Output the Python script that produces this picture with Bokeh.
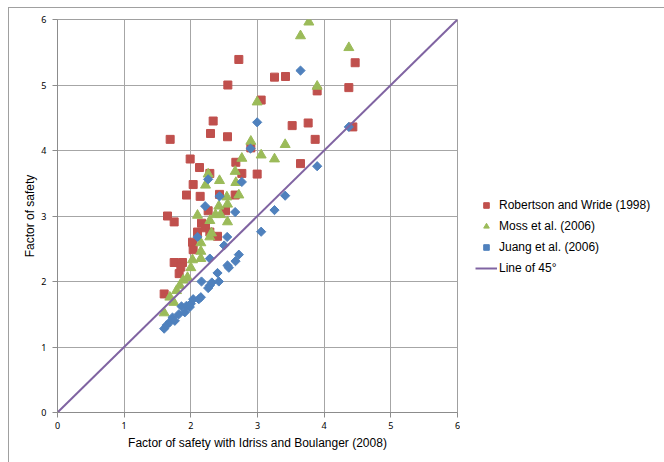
import numpy as np
from bokeh.plotting import figure
from bokeh.layouts import row
from bokeh.models import (Legend, LegendItem, FixedTicker, Range1d)
from bokeh.embed import file_html
from bokeh.resources import INLINE

# ---------------- data ----------------
rw_x = [1.69, 1.65, 1.75, 1.60, 1.75, 1.875, 1.85, 1.825, 1.935, 1.99, 2.035, 2.025, 2.035,
        2.10, 2.13, 2.14, 2.16, 2.22, 2.26, 2.285, 2.285, 2.295, 2.335, 2.40, 2.43, 2.52,
        2.55, 2.555, 2.665, 2.675, 2.72, 2.765, 2.90, 2.995, 3.055, 3.255, 3.42, 3.52,
        3.645, 3.76, 3.865, 3.895, 4.37, 4.43, 4.465]
rw_y = [4.17, 3.00, 2.91, 1.81, 2.29, 2.29, 2.22, 2.12, 3.32, 3.87, 3.48, 2.60, 2.485,
        2.755, 3.74, 3.30, 2.89, 2.82, 3.08, 2.755, 3.65, 4.26, 4.45, 2.69, 3.33, 3.08,
        4.21, 5.00, 3.32, 3.82, 5.39, 3.65, 4.04, 3.64, 4.77, 5.12, 5.13, 4.38,
        3.80, 4.42, 4.17, 4.91, 4.96, 4.36, 5.34]

moss_x = [1.60, 1.745, 1.685, 1.785, 1.835, 1.885, 1.95, 2.00, 2.025, 2.15, 2.15, 2.15,
          2.285, 2.31, 2.285, 2.10, 2.37, 2.445, 2.55, 2.42, 2.55, 2.54, 2.72, 2.22,
          2.43, 2.26, 2.675, 2.665, 2.765, 2.90, 2.995, 3.055, 3.255, 3.415, 3.645,
          3.77, 3.895, 4.37]
moss_y = [1.52, 1.68, 1.76, 1.86, 1.94, 2.02, 2.06, 2.21, 2.33, 2.35, 2.46, 2.59,
          2.68, 2.74, 2.93, 3.01, 3.02, 3.02, 2.91, 3.15, 3.18, 3.29, 3.32, 3.47,
          3.54, 3.64, 3.51, 3.68, 3.88, 4.14, 4.74, 3.93, 3.87, 4.09, 5.75,
          5.96, 4.98, 5.57]

juang_x = [1.60, 1.635, 1.685, 1.725, 1.76, 1.82, 1.86, 1.91, 1.935, 1.985, 2.00, 2.035,
           2.12, 2.15, 2.16, 2.26, 2.285, 2.315, 2.42, 2.40, 2.285, 2.55, 2.57, 2.67,
           2.72, 2.50, 2.10, 2.545, 3.055, 2.665, 3.255, 2.215, 2.43, 3.415, 2.765,
           2.26, 3.895, 2.895, 4.37, 2.995, 3.645]
juang_y = [1.28, 1.33, 1.38, 1.45, 1.40, 1.50, 1.62, 1.53, 1.63, 1.61, 1.66, 1.73,
           1.73, 1.76, 2.00, 1.90, 1.94, 1.985, 2.00, 2.13, 2.35, 2.245, 2.21, 2.31,
           2.41, 2.55, 2.68, 2.68, 2.76, 3.06, 3.09, 3.15, 3.30, 3.31, 3.52,
           3.56, 3.76, 4.03, 4.36, 4.43, 5.22]

line_x = [0, 6]
line_y = [0, 6]

ticks = [0, 1, 2, 3, 4, 5, 6]
series_names = ["Robertson and Wride (1998)", "Moss et al. (2006)",
                "Juang et al. (2006)", "Line of 45°"]

red = "#C0504D"
green = "#9BBB59"
blue = "#4F81BD"
purple = "#8064A2"

# ---------------- main figure ----------------
p = figure(width=451, height=454, output_backend="svg", toolbar_location=None,
           x_range=Range1d(0, 6), y_range=Range1d(0, 6),
           min_border_left=48, min_border_right=3, min_border_top=11,
           min_border_bottom=50)
p.background_fill_color = "white"
p.border_fill_color = "white"
p.outline_line_color = "#a0a0a0"
p.outline_line_width = 1

grid_col = "#a6a6a6"
for ax in (p.xaxis[0], p.yaxis[0]):
    ax.ticker = FixedTicker(ticks=ticks)
    ax.axis_line_color = "#8c8c8c"
    ax.major_tick_line_color = "#8c8c8c"
    ax.minor_tick_line_color = None
    ax.major_tick_in = 0
    ax.major_tick_out = 5
    ax.major_label_text_font = "Noto Sans"
    ax.major_label_text_font_size = "9px"
    ax.major_label_text_color = "#000000"
    ax.axis_label_text_font = "Liberation Sans"
    ax.axis_label_text_font_size = "12px"
    ax.axis_label_text_font_style = "normal"
    ax.axis_label_text_color = "#000000"

p.xaxis.axis_label = "Factor of safety with Idriss and Boulanger (2008)"
p.yaxis.axis_label = "Factor of safety"
p.xaxis.major_label_standoff = 4
p.xaxis.axis_label_standoff = 4
p.yaxis.major_label_standoff = 6
p.yaxis.axis_label_standoff = 1

p.xgrid.ticker = FixedTicker(ticks=ticks)
p.ygrid.ticker = FixedTicker(ticks=ticks)
p.xgrid.grid_line_color = grid_col
p.ygrid.grid_line_color = grid_col
p.xgrid.grid_line_width = 1
p.ygrid.grid_line_width = 1

p.scatter(rw_x, rw_y, marker="square", size=8, fill_color=red, line_color=red)
p.scatter(moss_x, moss_y, marker="triangle", size=10, fill_color=green, line_color=green)
p.scatter(juang_x, juang_y, marker="square", angle=np.pi / 4, size=6.5,
          fill_color=blue, line_color=blue)
p.line(line_x, line_y, line_color=purple, line_width=2)

# ---------------- legend panel ----------------
# (series repeated here only to feed the legend; they fall outside this panel's range)
q = figure(width=204, height=454, output_backend="svg", toolbar_location=None,
           x_range=Range1d(-10, -9), y_range=Range1d(-10, -9),
           min_border_left=0, min_border_right=0, min_border_top=0,
           min_border_bottom=0)
q.axis.visible = False
q.grid.visible = False
q.outline_line_color = None
q.background_fill_color = "white"
q.border_fill_color = "white"

l1 = q.scatter(rw_x, rw_y, marker="square", size=7, fill_color=red, line_color=red)
l2 = q.scatter(moss_x, moss_y, marker="triangle", size=9, fill_color=green, line_color=green)
l3 = q.scatter(juang_x, juang_y, marker="square", angle=np.pi / 4, size=5.5,
               fill_color=blue, line_color=blue)
l4 = q.line(line_x, line_y, line_color=purple, line_width=2)

legend = Legend(items=[LegendItem(label=series_names[0], renderers=[l1]),
                       LegendItem(label=series_names[1], renderers=[l2]),
                       LegendItem(label=series_names[2], renderers=[l3]),
                       LegendItem(label=series_names[3], renderers=[l4])],
                location=(15, 134))
legend.border_line_color = None
legend.background_fill_alpha = 0
legend.label_text_font = "Liberation Sans"
legend.label_text_font_size = "12px"
legend.label_text_color = "#000000"
legend.glyph_width = 22
legend.glyph_height = 14
legend.label_height = 20
legend.spacing = 1
legend.padding = 10
legend.margin = 0
legend.label_standoff = 2
q.add_layout(legend, "center")

layout = row(p, q, spacing=0,
             styles={"margin-left": "8px", "margin-top": "7px",
                     "border-left": "1px solid #a0a0a0",
                     "border-top": "1px solid #a0a0a0"})
open("out.html", "w").write(file_html(layout, INLINE))
